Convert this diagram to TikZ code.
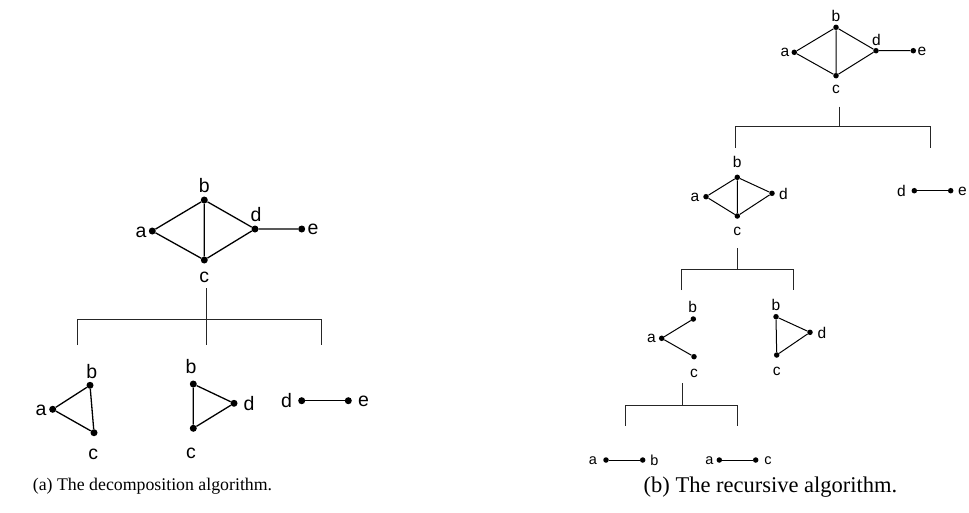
\documentclass[tikz,border=0pt]{standalone}
\usepackage{fontspec}
\setmainfont{Liberation Serif}
\newfontfamily\lab{Liberation Sans}
\begin{document}
\begin{tikzpicture}[x=1pt,y=-1pt,
  dotA/.style={circle,fill,inner sep=0pt,minimum size=7pt},
  dotB/.style={circle,fill,inner sep=0pt,minimum size=5.5pt},
  edgeA/.style={line width=1.3pt},
  edgeB/.style={line width=1pt},
  brk/.style={line width=1pt,draw=black!85},
  labA/.style={font=\lab\fontsize{19.5}{19.5}\selectfont,inner sep=0pt},
  labB/.style={font=\lab\fontsize{15.5}{15.5}\selectfont,inner sep=0pt},
  labC/.style={font=\lab\fontsize{14.5}{14.5}\selectfont,inner sep=0pt},
  captA/.style={font=\fontsize{17.8}{17.8}\selectfont,inner sep=0pt},
  captB/.style={font=\fontsize{22.5}{22.5}\selectfont,inner sep=0pt}]
\useasboundingbox (0,0) rectangle (969,512);
% ---------- (a) ----------
\node[dotA] (Aa) at (152.3,231) {};
\node[dotA] (Ab) at (204.3,200) {};
\node[dotA] (Ac) at (204.3,260) {};
\node[dotA] (Ad) at (255,229) {};
\node[dotA] (Ae) at (301.7,229) {};
\draw[edgeA] (Aa)--(Ab)--(Ad)--(Ac)--(Aa) (Ab)--(Ac) (Ad)--(Ae);
\node[labA] (lAa) at (141,232) {a};
\node[labA] (lAb) at (204.3,185.5) {b};
\node[labA] (lAc) at (204.3,277) {c};
\node[labA] (lAd) at (256,215) {d};
\node[labA] (lAe) at (313,229) {e};
\coordinate (Atop) at (206.7,288);
\coordinate (Amid) at (206.7,319);
\coordinate (Amb) at (206.7,345);
\coordinate (AL) at (77.3,319);
\coordinate (ALb) at (77.3,345);
\coordinate (AR) at (321.7,319);
\coordinate (ARb) at (321.7,345);
\draw[brk] (Atop)--(Amb) (ALb)--(AL)--(AR)--(ARb);
% triangle 1
\node[dotA] (A1a) at (52.7,409.3) {};
\node[dotA] (A1b) at (90,385.3) {};
\node[dotA] (A1c) at (94,432.7) {};
\draw[edgeA] (A1a)--(A1b)--(A1c)--(A1a);
\node[labA] (lA1a) at (41,410) {a};
\node[labA] (lA1b) at (91.7,371.5) {b};
\node[labA] (lA1c) at (93.3,454) {c};
% triangle 2
\node[dotA] (A2b) at (193.3,384) {};
\node[dotA] (A2d) at (234,403.3) {};
\node[dotA] (A2c) at (193.3,428.3) {};
\draw[edgeA] (A2b)--(A2d)--(A2c)--(A2b);
\node[labA] (lA2b) at (191,366.5) {b};
\node[labA] (lA2d) at (249,403.5) {d};
\node[labA] (lA2c) at (191,453.3) {c};
% d-e
\node[dotA] (A3d) at (301.7,400.7) {};
\node[dotA] (A3e) at (348.3,400.7) {};
\draw[edgeA] (A3d)--(A3e);
\node[labA] (lA3d) at (286.5,400.7) {d};
\node[labA] (lA3e) at (363.5,401) {e};
\node[captA] (capA) at (152.5,486) {(a) The decomposition algorithm.};
% ---------- (b) ----------
\node[dotB] (Ba) at (794.3,52.3) {};
\node[dotB] (Bb) at (836,27.3) {};
\node[dotB] (Bc) at (836,75.7) {};
\node[dotB] (Bd) at (876,50.7) {};
\node[dotB] (Be) at (913.3,50.7) {};
\draw[edgeB] (Ba)--(Bb)--(Bd)--(Bc)--(Ba) (Bb)--(Bc) (Bd)--(Be);
\node[labB] (lBa) at (785,52.5) {a};
\node[labB] (lBb) at (836,16) {b};
\node[labB] (lBc) at (836,89.3) {c};
\node[labB] (lBd) at (876.5,39.5) {d};
\node[labB] (lBe) at (922,51) {e};
\coordinate (B1top) at (839,106.7);
\coordinate (B1mid) at (839,126.7);
\coordinate (B1L) at (735.7,126.7);
\coordinate (B1Lb) at (735.7,147.7);
\coordinate (B1R) at (930.7,126.7);
\coordinate (B1Rb) at (930.7,147.7);
\draw[brk] (B1top)--(B1mid) (B1Lb)--(B1L)--(B1R)--(B1Rb);
% second level graph
\node[dotB] (B2a) at (706,196.7) {};
\node[dotB] (B2b) at (737.3,177.3) {};
\node[dotB] (B2c) at (737.3,216) {};
\node[dotB] (B2d) at (772,193.3) {};
\draw[edgeB] (B2a)--(B2b)--(B2d)--(B2c)--(B2a) (B2b)--(B2c);
\node[labB] (lB2a) at (695,197) {a};
\node[labB] (lB2b) at (737.3,162.3) {b};
\node[labB] (lB2c) at (737.3,231.7) {c};
\node[labB] (lB2d) at (783.5,193.5) {d};
\node[dotB] (B3d) at (914.3,190.7) {};
\node[dotB] (B3e) at (950.7,190.7) {};
\draw[edgeB] (B3d)--(B3e);
\node[labB] (lB3d) at (901.3,191) {d};
\node[labB] (lB3e) at (962.5,191) {e};
\coordinate (B2top) at (737.7,248.3);
\coordinate (B2mid) at (737.7,269.3);
\coordinate (B2L) at (681.7,269.3);
\coordinate (B2Lb) at (681.7,290);
\coordinate (B2R) at (793.3,269.3);
\coordinate (B2Rb) at (793.3,290);
\draw[brk] (B2top)--(B2mid) (B2Lb)--(B2L)--(B2R)--(B2Rb);
% third level left
\node[dotB] (B4a) at (661.7,338.3) {};
\node[dotB] (B4b) at (693.3,319) {};
\node[dotB] (B4c) at (694,356.7) {};
\draw[edgeB] (B4b)--(B4a)--(B4c);
\node[labB] (lB4a) at (651.5,338.5) {a};
\node[labB] (lB4b) at (692.7,307.3) {b};
\node[labB] (lB4c) at (694,373.3) {c};
% third level right
\node[dotB] (B5b) at (776,316.7) {};
\node[dotB] (B5d) at (810,332.3) {};
\node[dotB] (B5c) at (776.7,355) {};
\draw[edgeB] (B5b)--(B5d)--(B5c)--(B5b);
\node[labB] (lB5b) at (776,305) {b};
\node[labB] (lB5d) at (822,332.5) {d};
\node[labB] (lB5c) at (776.7,371.7) {c};
\coordinate (B3top) at (682.3,383.3);
\coordinate (B3mid) at (682.3,405.7);
\coordinate (B3L) at (625.7,405.7);
\coordinate (B3Lb) at (625.7,425.7);
\coordinate (B3R) at (737.7,405.7);
\coordinate (B3Rb) at (737.7,425.7);
\draw[brk] (B3top)--(B3mid) (B3Lb)--(B3L)--(B3R)--(B3Rb);
% bottom
\node[dotB] (B6a) at (606,460) {};
\node[dotB] (B6b) at (642.7,460) {};
\draw[edgeB] (B6a)--(B6b);
\node[labC] (lB6a) at (593,460.5) {a};
\node[labC] (lB6b) at (654.5,460) {b};
\node[dotB] (B7a) at (719.3,460) {};
\node[dotB] (B7c) at (755.7,460) {};
\draw[edgeB] (B7a)--(B7c);
\node[labC] (lB7a) at (709.5,460.5) {a};
\node[labC] (lB7c) at (768,460.5) {c};
\node[captB] (capB) at (770.5,487) {(b) The recursive algorithm.};
\end{tikzpicture}
\end{document}
